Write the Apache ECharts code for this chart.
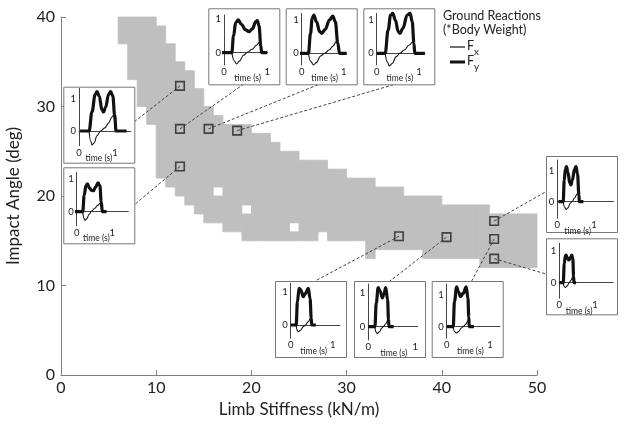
<!DOCTYPE html>
<html><head><meta charset="utf-8">
<script src="https://cdn.jsdelivr.net/npm/echarts@6/dist/echarts.min.js"></script>
<style>html,body{margin:0;padding:0;background:#fff}#c{width:624px;height:425px}</style>
</head><body><div id="c"></div>
<script>
// ---- feasible region (per 1 kN/m column: lower and upper impact angle) ----
const colX    = [6,7,8,9,10,11,12,13,14,15,16,17,18,19,20,21,22,23,24,25,26,27,28,29,30,31,32,33,34,35,36,37,38,39,40,41,42,43,44,45,46,47,48,49];
const colLow  = [37,33,30,28,22,21,20,19,18,17,17,16,16,15,15,15,15,15,15,15,15,16,15,15,15,15,13,14,14,14,14,14,13,13,13,13,13,13,12,12,12,12,12,12];
const colHigh = [40,40,40,40,39,37,35,34,32,30,29,28,28,28,27,27,26,25,25,24,24,24,23,23,22,22,22,21,21,21,20,20,20,20,19,19,19,19,19,18,18,18,18,18];
const holeX = [16,19,24];
const holeY = [20,18,16];
// ---- highlighted simulations ----
const markX = [12.5,12.5,15.5,18.5,12.5,35.5,40.5,45.5,45.5,45.5];
const markY = [32.3,27.5,27.5,27.3,23.3,15.5,15.4,15.2,17.2,13.0];
// ---- ground reaction traces [time, force/body weight] ----
const fyA = [[0.03,0],[0.28,0],[0.36,0.6],[0.45,1.15],[0.5,1.24],[0.56,1.1],[0.64,0.66],[0.68,0.6],[0.74,0.75],[0.82,1.15],[0.88,1.24],[0.94,1.1],[0.99,0.5],[1.03,0],[1.32,0]];
const fxA = [[0.28,0],[0.32,-0.3],[0.36,-0.44],[0.42,-0.38],[0.5,-0.15],[0.6,0],[0.72,0.1],[0.82,0.25],[0.92,0.45],[0.96,0.5],[1.0,0.3],[1.03,0]];
const fyT1 = [[-0.13,0],[0.18,0],[0.22,0.5],[0.27,0.9],[0.33,0.98],[0.4,0.85],[0.5,0.68],[0.58,0.63],[0.66,0.72],[0.73,0.92],[0.77,0.96],[0.81,0.8],[0.85,0.2],[0.87,0],[1.0,0]];
const fxT1 = [[0.18,0],[0.24,-0.25],[0.29,-0.34],[0.36,-0.25],[0.45,-0.08],[0.55,0.02],[0.65,0.1],[0.75,0.22],[0.81,0.3],[0.84,0.22],[0.87,0]];
const fyT2 = [[-0.1,0],[0.16,0],[0.21,0.6],[0.25,1.05],[0.29,1.15],[0.35,0.95],[0.43,0.65],[0.48,0.6],[0.56,0.72],[0.66,1.0],[0.74,1.12],[0.8,0.95],[0.86,0.3],[0.9,0],[1.07,0]];
const fxT2 = [[0.16,0],[0.22,-0.25],[0.28,-0.35],[0.35,-0.28],[0.45,-0.08],[0.55,0],[0.65,0.1],[0.75,0.22],[0.82,0.35],[0.87,0.25],[0.9,0]];
const fyT3 = [[0,0],[0.2,0],[0.27,0.7],[0.33,1.15],[0.38,1.2],[0.44,1.0],[0.51,0.65],[0.55,0.6],[0.62,0.75],[0.72,1.15],[0.79,1.2],[0.84,0.95],[0.88,0.3],[0.9,0],[1.14,0]];
const fxT3 = [[0.2,0],[0.25,-0.25],[0.3,-0.38],[0.37,-0.3],[0.46,-0.1],[0.55,0],[0.65,0.1],[0.77,0.25],[0.86,0.35],[0.89,0.2],[0.9,0]];
const fyB = [[-0.05,0],[0.17,0],[0.21,0.5],[0.26,0.8],[0.3,0.85],[0.36,0.72],[0.42,0.65],[0.47,0.64],[0.53,0.75],[0.6,0.88],[0.65,0.8],[0.69,0.3],[0.72,0],[0.84,0]];
const fxB = [[0.17,0],[0.2,-0.2],[0.23,-0.26],[0.28,-0.22],[0.35,-0.08],[0.42,0.02],[0.5,0.1],[0.6,0.2],[0.65,0.26],[0.69,0.15],[0.72,0]];
const fyF = [[0,0],[0.13,0],[0.16,0.7],[0.2,1.1],[0.24,1.05],[0.3,0.85],[0.35,0.95],[0.42,1.1],[0.46,0.8],[0.49,0.2],[0.5,0],[0.6,0]];
const fxF = [[0.13,0],[0.15,-0.15],[0.18,-0.2],[0.24,-0.15],[0.3,-0.05],[0.35,0],[0.42,0.1],[0.47,0.2],[0.49,0.1],[0.5,0]];
const fyG = [[0,0],[0.14,0],[0.17,0.7],[0.21,1.15],[0.25,1.05],[0.3,0.85],[0.33,0.95],[0.37,1.15],[0.41,0.8],[0.43,0.2],[0.44,0],[0.54,0]];
const fxG = [[0.14,0],[0.16,-0.15],[0.19,-0.2],[0.24,-0.15],[0.28,-0.05],[0.32,0],[0.37,0.08],[0.42,0.2],[0.43,0.1],[0.44,0]];
const fyH = [[0,0],[0.15,0],[0.18,0.8],[0.23,1.26],[0.27,1.1],[0.32,0.95],[0.38,1.05],[0.45,1.26],[0.49,0.9],[0.51,0.3],[0.52,0],[0.63,0]];
const fxH = [[0.15,0],[0.18,-0.15],[0.22,-0.2],[0.28,-0.15],[0.33,-0.05],[0.38,0],[0.44,0.08],[0.5,0.2],[0.51,0.1],[0.52,0]];
const fyD = [[0.03,0],[0.16,0],[0.19,0.7],[0.22,1.05],[0.25,1.13],[0.29,0.95],[0.34,0.6],[0.37,0.54],[0.41,0.7],[0.47,1.05],[0.51,1.13],[0.55,0.9],[0.59,0.2],[0.6,0],[0.71,0]];
const fxD = [[0.16,0],[0.2,-0.18],[0.24,-0.25],[0.29,-0.2],[0.35,-0.05],[0.4,0],[0.47,0.12],[0.54,0.25],[0.57,0.3],[0.59,0.15],[0.6,0]];
const fyE = [[0,0],[0.11,0],[0.14,0.6],[0.17,0.84],[0.19,0.86],[0.23,0.76],[0.27,0.71],[0.31,0.78],[0.35,0.86],[0.38,0.75],[0.4,0.2],[0.41,0],[0.47,0]];
const fxE = [[0.11,0],[0.14,-0.12],[0.17,-0.15],[0.22,-0.1],[0.28,0],[0.33,0.08],[0.38,0.2],[0.4,0.22],[0.41,0]];
const insetFy = [fyA,fyT1,fyT2,fyT3,fyB,fyF,fyG,fyH,fyD,fyE];
const insetFx = [fxA,fxT1,fxT2,fxT3,fxB,fxF,fxG,fxH,fxD,fxE];
const xTicks = [0,10,20,30,40,50];
const yTicks = [0,10,20,30,40];
const insetTicks = [0,1];

// ---- layout of the inset panels (pixels) ----
const insets = [
  {bx:63.3, by:86.7, ax:15.7, pxT:36,   tMax:1.44, zero:44.3, pxY:31.7, xa:59,   top:1.6, anchor:[134,122]},
  {bx:208.3,by:8.3,  ax:15.7, pxT:43.3, tMax:1.0,  zero:44.3, pxY:33.3, xa:56.7, top:6.7, anchor:[245,83.3]},
  {bx:285.7,by:8.3,  ax:16,   pxT:42,   tMax:1.07, zero:45,   pxY:33.3, xa:56.7, top:5,   anchor:[321.7,83.3]},
  {bx:363.3,by:8.3,  ax:13.4, pxT:42.3, tMax:1.14, zero:45,   pxY:33.3, xa:56.7, top:5,   anchor:[398.3,83.3]},
  {bx:63.3, by:167.3,ax:13.4, pxT:35.6, tMax:1.45, zero:44.4, pxY:32.7, xa:58.4, top:5,   anchor:[134,205]},
  {bx:275,  by:281,  ax:15.7, pxT:42,   tMax:1.17, zero:44,   pxY:33.3, xa:57.3, top:2.3, anchor:[315,281]},
  {bx:354,  by:281,  ax:14.3, pxT:47,   tMax:1.05, zero:45.7, pxY:34,   xa:59,   top:3,   anchor:[390,281]},
  {bx:431.7,by:281,  ax:15,   pxT:43.3, tMax:1.23, zero:45.7, pxY:31.7, xa:57.3, top:3,   anchor:[471.7,281]},
  {bx:546,  by:156,  ax:11.3, pxT:36.7, tMax:1.53, zero:45.7, pxY:31,   xa:62.3, top:4,   anchor:[546,191.7]},
  {bx:546,  by:238.3,ax:13.3, pxT:35.7, tMax:1.51, zero:44.4, pxY:32,   xa:60,   top:5,   anchor:[546,274]}
];
const BOXW = 71, BOXH = 76;
const FONT = 'Lato';
const GRAY = '#bfbfbf';

const grids = [{left:61, right:87, top:17, bottom:50, outerBoundsMode:'none', containLabel:false}];
const xAxes = [{
  type:'value', gridIndex:0, min:0, max:50, interval:10,
  name:'Limb Stiffness (kN/m)', nameLocation:'middle', nameGap:26,
  nameTextStyle:{fontFamily:FONT, fontSize:17, color:'#222'},
  axisLine:{lineStyle:{color:'#808080'}},
  axisTick:{inside:true, length:5, lineStyle:{color:'#808080'}},
  axisLabel:{fontFamily:FONT, fontSize:16, color:'#222', margin:5, customValues:xTicks},
  splitLine:{show:false}
}];
const yAxes = [{
  type:'value', gridIndex:0, min:0, max:40, interval:10,
  name:'Impact Angle (deg)', nameLocation:'middle', nameGap:39,
  nameTextStyle:{fontFamily:FONT, fontSize:17, color:'#222'},
  axisLine:{show:true, lineStyle:{color:'#808080'}},
  axisTick:{show:true, inside:true, length:5, lineStyle:{color:'#808080'}},
  axisLabel:{fontFamily:FONT, fontSize:16, color:'#222', margin:6, customValues:yTicks},
  splitLine:{show:false}
}];

const regionData = colX.map((x,i)=>[x, colLow[i], colHigh[i]]);
const holeData = holeX.map((x,i)=>[x, holeY[i]]);
const series = [
  {type:'custom', xAxisIndex:0, yAxisIndex:0, z:2, silent:true, data:regionData,
   renderItem:function(p, api){
     const x=api.value(0), lo=api.value(1), hi=api.value(2);
     const a=api.coord([x,hi]), b=api.coord([x+1,lo]);
     return {type:'rect', shape:{x:a[0],y:a[1],width:b[0]-a[0],height:b[1]-a[1]}, style:{fill:GRAY, stroke:GRAY, lineWidth:0.8}};
   }},
  {type:'custom', xAxisIndex:0, yAxisIndex:0, z:2, silent:true, data:holeData,
   renderItem:function(p, api){
     const x=api.value(0), y=api.value(1);
     const a=api.coord([x,y+1]), b=api.coord([x+1,y]);
     return {type:'rect', shape:{x:a[0]+0.4,y:a[1]+0.4,width:b[0]-a[0]-0.8,height:b[1]-a[1]-0.8}, style:{fill:'#fff'}};
   }},
  {type:'scatter', xAxisIndex:0, yAxisIndex:0, z:4, symbol:'rect', symbolSize:8.5,
   data:markX.map((x,i)=>[x, markY[i]]),
   itemStyle:{color:'rgba(0,0,0,0)', borderColor:'#222', borderWidth:1.6}}
];

insets.forEach((s,i)=>{
  const gi = i+1;
  grids.push({left:s.bx+s.ax, top:s.by+s.top, width:s.pxT*s.tMax, height:s.xa-s.top, outerBoundsMode:'none', containLabel:false});
  xAxes.push({type:'value', gridIndex:gi, min:0, max:Math.max(s.tMax,1.0001), z:5,
    axisLine:{lineStyle:{color:'#444', width:1}},
    axisTick:{show:false},
    axisLabel:{fontFamily:FONT, fontSize:9.5, color:'#222', margin:2, customValues:insetTicks, showMaxLabel:true, showMinLabel:true},
    splitLine:{show:false}});
  yAxes.push({type:'value', gridIndex:gi, min:-(s.xa-s.zero)/s.pxY, max:(s.zero-s.top)/s.pxY, z:5,
    axisLine:{show:true, onZero:false, lineStyle:{color:'#444', width:1}},
    axisTick:{show:false},
    axisLabel:{fontFamily:FONT, fontSize:9.5, color:'#222', margin:3, customValues:insetTicks},
    splitLine:{show:false}});
  series.push({type:'line', xAxisIndex:gi, yAxisIndex:gi, z:6, data:insetFx[i], symbol:'none', smooth:0.4, smoothMonotone:'x', clip:false,
    lineStyle:{color:'#111', width:1.1}});
  series.push({type:'line', xAxisIndex:gi, yAxisIndex:gi, z:6, data:insetFy[i], symbol:'none', smooth:0.4, smoothMonotone:'x', clip:false,
    lineStyle:{color:'#111', width:3.2, join:'round'}});
});

const chart = echarts.init(document.getElementById('c'), null, {renderer:'canvas'});
chart.setOption({animation:false, backgroundColor:'#fff', textStyle:{fontFamily:FONT},
  grid:grids, xAxis:xAxes, yAxis:yAxes, series:series});

const g = [];
insets.forEach((s,i)=>{
  const mp = chart.convertToPixel({xAxisIndex:0, yAxisIndex:0}, [markX[i], markY[i]]);
  g.push({type:'line', z:3, silent:true, shape:{x1:mp[0], y1:mp[1], x2:s.anchor[0], y2:s.anchor[1]},
    style:{stroke:'#444', lineWidth:1, lineDash:[3,2]}});
  g.push({type:'rect', z:3, silent:true, shape:{x:s.bx+0.5, y:s.by+0.5, width:BOXW, height:BOXH},
    style:{fill:'#fff', stroke:'#777', lineWidth:1}});
  g.push({type:'text', z:6, silent:true, x:s.bx+s.ax+0.5*s.pxT+2, y:s.by+s.xa+13,
    style:{text:'time (s)', fontFamily:FONT, fontSize:8.5, fill:'#222', align:'center', verticalAlign:'middle'}});
});
// legend
g.push({type:'text', z:6, x:443, y:16, style:{text:'Ground Reactions', fontFamily:FONT, fontSize:12.5, fill:'#222', verticalAlign:'middle'}});
g.push({type:'text', z:6, x:443, y:30, style:{text:'(*Body Weight)', fontFamily:FONT, fontSize:12.5, fill:'#222', verticalAlign:'middle'}});
g.push({type:'line', z:6, shape:{x1:450,y1:47,x2:465,y2:47}, style:{stroke:'#111', lineWidth:1.2}});
g.push({type:'line', z:6, shape:{x1:450,y1:62,x2:465,y2:62}, style:{stroke:'#111', lineWidth:3}});
g.push({type:'text', z:6, x:467, y:46, style:{text:'F', fontFamily:FONT, fontSize:12.5, fill:'#222', verticalAlign:'middle'}});
g.push({type:'text', z:6, x:474, y:52, style:{text:'x', fontFamily:FONT, fontSize:10, fill:'#222', verticalAlign:'middle'}});
g.push({type:'text', z:6, x:467, y:60.5, style:{text:'F', fontFamily:FONT, fontSize:12.5, fill:'#222', verticalAlign:'middle'}});
g.push({type:'text', z:6, x:474, y:67, style:{text:'y', fontFamily:FONT, fontSize:10, fill:'#222', verticalAlign:'middle'}});
chart.setOption({graphic:{elements:g}});
</script></body></html>
